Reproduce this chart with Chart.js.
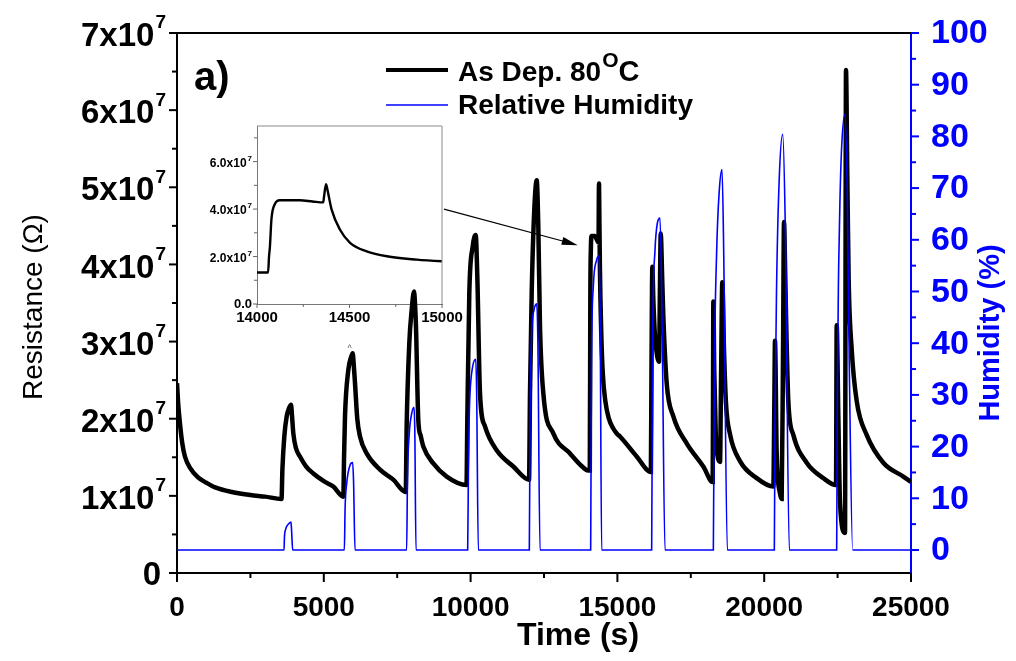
<!DOCTYPE html>
<html>
<head>
<meta charset="utf-8">
<script src="https://cdn.jsdelivr.net/npm/chart.js@4.4.1/dist/chart.umd.min.js"></script>
<style>
  html, body { margin: 0; padding: 0; background: #fff; }
  #wrap { position: relative; width: 1016px; height: 661px; }
  #wrap canvas { position: absolute; }
  #insetChart { left: 190px; top: 118px; }
  #mainChart { left: 0; top: 0; }
</style>
</head>
<body>
<div id="wrap">
  <canvas id="insetChart" width="280" height="240"></canvas>
  <canvas id="mainChart" width="1016" height="661"></canvas>
</div>
<script>
const FONT = "'Liberation Sans', Arial, Helvetica, sans-serif";
const BLUE = '#0000ff';

// --- DATA ---
// resistance trace, time in s, resistance in ohm
const resTime = [
  0, 40, 100, 180, 270, 450, 715, 1000, 1300, 1870, 2500, 3000, 3560,
  3590, 3655, 3736, 3820, 3883, 3915, 3962, 4050, 4189, 4400, 4643, 5000, 5324, 5665,
  5690, 5722, 5835, 5930, 5983, 6020, 6063, 6140, 6233, 6461, 6914, 7367, 7790,
  7822, 7912, 7994, 8073, 8105, 8140, 8219, 8300, 8389, 8730, 9186, 9860,
  9888, 9956, 10071, 10174, 10229, 10320, 10490, 10889, 11455, 11990,
  12023, 12081, 12159, 12252, 12306, 12364, 12477, 12817, 13386, 13800, 14000, 14060,
  14065, 14070, 14078, 14096, 14123, 14231, 14300, 14358, 14362, 14373, 14380, 14403,
  14448, 14503, 14593, 14702, 14864, 15000, 15089, 15657, 16140,
  16160, 16190, 16224, 16281, 16360, 16417, 16451, 16475, 16530, 16565, 16679, 16906, 17360, 17926, 18246,
  18258, 18268, 18300, 18350, 18400, 18495, 18530, 18573, 18631, 18699, 18835, 19176, 19744, 20311,
  20345, 20368, 20425, 20538, 20595, 20640, 20675, 20710, 20743, 20821, 20992, 21447, 22014, 22446,
  22469, 22526, 22583, 22752, 22786, 22831, 22877, 22980, 23150, 23490, 24057, 24738, 25000
];
const resistance = [
  2.46e7, 2.20e7, 1.94e7, 1.68e7, 1.51e7, 1.36e7, 1.24e7, 1.17e7, 1.11e7, 1.05e7, 1.01e7, 0.99e7, 0.96e7,
  1.34e7, 1.77e7, 2.03e7, 2.14e7, 2.18e7, 2.05e7, 1.81e7, 1.62e7, 1.51e7, 1.38e7, 1.29e7, 1.19e7, 1.12e7, 0.99e7,
  1.50e7, 2.03e7, 2.63e7, 2.80e7, 2.85e7, 2.70e7, 2.46e7, 2.00e7, 1.77e7, 1.55e7, 1.34e7, 1.21e7, 1.05e7,
  1.90e7, 2.98e7, 3.41e7, 3.65e7, 3.50e7, 3.19e7, 1.98e7, 1.78e7, 1.64e7, 1.42e7, 1.25e7, 1.14e7,
  1.98e7, 3.63e7, 4.23e7, 4.38e7, 3.84e7, 2.33e7, 1.90e7, 1.59e7, 1.38e7, 1.21e7,
  2.33e7, 3.63e7, 4.62e7, 5.09e7, 4.49e7, 3.19e7, 2.33e7, 1.81e7, 1.55e7, 1.38e7, 1.33e7, 1.33e7,
  2.00e7, 2.43e7, 3.57e7, 4.20e7, 4.37e7, 4.37e7, 4.32e7, 4.28e7, 4.50e7, 5.05e7, 4.84e7, 3.99e7,
  3.14e7, 2.58e7, 2.22e7, 2.01e7, 1.87e7, 1.80e7, 1.77e7, 1.51e7, 1.31e7,
  2.60e7, 3.97e7, 3.54e7, 3.06e7, 2.80e7, 2.74e7, 3.76e7, 4.40e7, 3.76e7, 3.32e7, 2.46e7, 2.03e7, 1.68e7, 1.38e7, 1.18e7,
  2.40e7, 3.52e7, 2.60e7, 1.80e7, 1.55e7, 1.44e7, 2.50e7, 3.77e7, 2.89e7, 2.20e7, 1.80e7, 1.45e7, 1.23e7, 1.12e7,
  2.20e7, 3.01e7, 1.56e7, 1.03e7, 0.96e7, 2.80e7, 4.55e7, 4.00e7, 3.35e7, 2.23e7, 1.79e7, 1.43e7, 1.23e7, 1.14e7,
  3.21e7, 2.01e7, 0.90e7, 0.52e7, 6.52e7, 5.13e7, 3.80e7, 2.90e7, 2.23e7, 1.79e7, 1.43e7, 1.25e7, 1.18e7
];

// relative humidity trace, time in s, humidity in %
const humTime = [
  0, 3645, 3660, 3700, 3780, 3883, 3905, 3940,
  5700, 5725, 5780, 5893, 5983, 6015, 6063,
  7822, 7850, 7912, 7994, 8073, 8100, 8140,
  9900, 9925, 9950, 9980, 10071, 10174, 10205, 10263,
  12000, 12025, 12081, 12159, 12252, 12290, 12364,
  14090, 14115, 14179, 14293, 14375, 14410, 14464,
  16167, 16200, 16281, 16360, 16451, 16520, 16621,
  18268, 18300, 18382, 18471, 18563, 18620, 18744,
  20345, 20368, 20425, 20513, 20630, 20720, 20856,
  22469, 22489, 22537, 22583, 22640, 22752, 22831, 22899, 23014,
  25000
];
const humidity = [
  0, 0, 2.5, 4.0, 4.9, 5.4, 3.5, 0,
  0, 8, 12.9, 16.4, 16.9, 13, 0,
  0, 14, 22.6, 26.4, 27.6, 23, 0,
  0, 15, 25, 30.3, 35.5, 36.9, 31, 0,
  0, 25, 41.9, 46.4, 47.6, 41, 0,
  0, 35, 50.9, 56.1, 56.9, 47, 0,
  0, 40, 58, 63.2, 64.2, 45, 0,
  0, 32, 58, 69.6, 73.6, 58, 0,
  0, 25, 52.1, 72.0, 80.4, 62, 0,
  0, 28.5, 55, 68.3, 78.2, 84.3, 68.3, 35.2, 0,
  0
];

// axis ticks
const timeTicks = [0, 5000, 10000, 15000, 20000, 25000];
const resTicks = [0, 1e7, 2e7, 3e7, 4e7, 5e7, 6e7, 7e7];
const humTicks = [0, 10, 20, 30, 40, 50, 60, 70, 80, 90, 100];
const insetTimeTicks = [14000, 14500, 15000];
const insetResTicks = [0, 2e7, 4e7, 6e7];

// arrow from the inset to the zoomed region: [inset time, inset R] -> [main time, main R]
const arrowFrom = [15000, 4.0e7];
const arrowTo = [13650, 4.25e7];

const resPoints = resTime.map((t, i) => ({ x: t, y: resistance[i] }));
const humPoints = humTime.map((t, i) => ({ x: t, y: humidity[i] }));

// --- helpers ---
function setTicks(list) {
  return axis => { axis.ticks = list.map(v => ({ value: v })); };
}

function drawTickMarks(ctx, scale, side, majorLen, minorLen) {
  const ticks = scale.ticks.map(t => t.value);
  const step = (ticks[1] - ticks[0]) / 2;
  const a = scale.chart.chartArea;
  for (let v = ticks[0]; v <= scale.max + step / 100; v += step) {
    if (v < scale.min) continue;
    const major = ticks.some(t => Math.abs(t - v) < step / 10);
    const len = major ? majorLen : minorLen;
    const p = scale.getPixelForValue(v);
    ctx.beginPath();
    if (side === 'bottom') { ctx.moveTo(p, a.bottom); ctx.lineTo(p, a.bottom + len); }
    else if (side === 'left') { ctx.moveTo(a.left, p); ctx.lineTo(a.left - len, p); }
    else { ctx.moveTo(a.right, p); ctx.lineTo(a.right + len, p); }
    ctx.stroke();
  }
}

// text with a superscript part; align 'right' ends at x, 'left' starts at x
function supText(ctx, base, sup, x, y, size, supSize, color, align) {
  ctx.font = `bold ${supSize}px ${FONT}`;
  const ws = sup ? ctx.measureText(sup).width + 1 : 0;
  ctx.font = `bold ${size}px ${FONT}`;
  const wb = ctx.measureText(base).width;
  ctx.fillStyle = color;
  ctx.textBaseline = 'middle';
  ctx.textAlign = 'left';
  const x0 = align === 'left' ? x : x - ws - wb;
  ctx.fillText(base, x0, y);
  if (sup) {
    ctx.font = `bold ${supSize}px ${FONT}`;
    ctx.fillText(sup, x0 + wb + 1, y - size * 0.42);
  }
  return x0 + wb + ws;
}

function plainText(ctx, text, x, y, font, color, align) {
  ctx.font = font;
  ctx.fillStyle = color;
  ctx.textAlign = align;
  ctx.textBaseline = 'middle';
  ctx.fillText(text, x, y);
}

// --- INSET ---
const insetDecor = {
  id: 'insetDecor',
  afterDraw(chart) {
    const { ctx, chartArea: a, scales } = chart;
    ctx.save();
    ctx.strokeStyle = '#8a8a8a';
    ctx.lineWidth = 1;
    ctx.beginPath();
    ctx.moveTo(a.left, a.top); ctx.lineTo(a.right, a.top); ctx.lineTo(a.right, a.bottom);
    ctx.stroke();
    ctx.strokeStyle = '#666';
    drawTickMarks(ctx, scales.x, 'bottom', 4, 3);
    drawTickMarks(ctx, scales.y, 'left', 4, 3);
    scales.y.ticks.forEach(t => {
      const y = scales.y.getPixelForValue(t.value);
      if (t.value === 0) supText(ctx, '0.0', '', a.left - 5, y, 13, 8, '#000');
      else supText(ctx, (t.value / 1e7).toFixed(1) + 'x10', '7', a.left - 5, y + 2, 12, 8, '#000');
    });
    scales.x.ticks.forEach(t => {
      plainText(ctx, String(t.value), scales.x.getPixelForValue(t.value), a.bottom + 14, `bold 15px ${FONT}`, '#000', 'center');
    });
    plainText(ctx, '^', scales.x.getPixelForValue(14500), a.bottom + 45, `9px ${FONT}`, '#555', 'center');
    ctx.restore();
  }
};

const insetChart = new Chart(document.getElementById('insetChart'), {
  type: 'line',
  data: {
    datasets: [{
      data: resPoints,
      borderColor: '#000',
      borderWidth: 2.4,
      pointRadius: 0,
      cubicInterpolationMode: 'monotone'
    }]
  },
  options: {
    responsive: false,
    animation: false,
    devicePixelRatio: 1,
    layout: { padding: { top: 8, right: 28, left: 0, bottom: 0 } },
    plugins: { legend: { display: false }, tooltip: { enabled: false } },
    scales: {
      x: {
        type: 'linear', min: 14000, max: 15000,
        afterBuildTicks: setTicks(insetTimeTicks),
        ticks: { display: false },
        grid: { display: false, drawTicks: false },
        border: { display: true, color: '#777', width: 1 },
        afterFit: s => { s.height = 54; }
      },
      y: {
        min: 0, max: 7.5e7,
        afterBuildTicks: setTicks(insetResTicks),
        ticks: { display: false },
        grid: { display: false, drawTicks: false },
        border: { display: true, color: '#777', width: 1 },
        afterFit: s => { s.width = 67; }
      }
    }
  },
  plugins: [insetDecor]
});

// --- MAIN CHART ---
const mainDecor = {
  id: 'mainDecor',
  afterDraw(chart) {
    const { ctx, chartArea: a, scales } = chart;
    ctx.save();
    // top frame
    ctx.strokeStyle = '#000';
    ctx.lineWidth = 2;
    ctx.beginPath();
    ctx.moveTo(a.left, a.top); ctx.lineTo(a.right, a.top);
    ctx.stroke();
    // tick marks
    drawTickMarks(ctx, scales.x, 'bottom', 9, 5);
    drawTickMarks(ctx, scales.y, 'left', 8, 5);
    ctx.strokeStyle = BLUE;
    drawTickMarks(ctx, scales.y2, 'right', 8, 5);

    // tick labels
    scales.x.ticks.forEach(t => {
      plainText(ctx, String(t.value), scales.x.getPixelForValue(t.value), a.bottom + 35, `bold 28px ${FONT}`, '#000', 'center');
    });
    scales.y.ticks.forEach(t => {
      const y = scales.y.getPixelForValue(t.value);
      if (t.value === 0) supText(ctx, '0', '', a.left - 16, y + 3, 33, 19, '#000');
      else supText(ctx, (t.value / 1e7) + 'x10', '7', a.left - 11, y + 4, 33, 19, '#000');
    });
    scales.y2.ticks.forEach(t => {
      plainText(ctx, String(t.value), a.right + 20, scales.y2.getPixelForValue(t.value) + 1, `bold 34px ${FONT}`, BLUE, 'left');
    });

    // axis titles
    plainText(ctx, 'Time (s)', a.left + 401, a.bottom + 63, `bold 32px ${FONT}`, '#000', 'center');
    ctx.save();
    ctx.translate(34, (a.top + a.bottom) / 2 + 4);
    ctx.rotate(-Math.PI / 2);
    plainText(ctx, 'Resistance (\u03A9)', 0, 0, `28px ${FONT}`, '#000', 'center');
    ctx.restore();
    ctx.save();
    ctx.translate(991, (a.top + a.bottom) / 2 + 30);
    ctx.rotate(-Math.PI / 2);
    plainText(ctx, 'Humidity (%)', 0, 0, `bold 29px ${FONT}`, BLUE, 'center');
    ctx.restore();

    // panel label
    plainText(ctx, 'a)', a.left + 17, a.top + 46, `bold 40px ${FONT}`, '#000', 'left');

    // legend
    const lx = a.left + 209, ly1 = a.top + 37, ly2 = a.top + 72;
    ctx.strokeStyle = '#000';
    ctx.lineWidth = 4;
    ctx.beginPath(); ctx.moveTo(lx, ly1); ctx.lineTo(lx + 62, ly1); ctx.stroke();
    const xe = supText(ctx, 'As Dep. 80', 'O', lx + 72, ly1 + 3, 28, 21, '#000', 'left');
    plainText(ctx, 'C', xe, ly1 + 3, `bold 29px ${FONT}`, '#000', 'left');
    ctx.strokeStyle = BLUE;
    ctx.lineWidth = 1.5;
    ctx.beginPath(); ctx.moveTo(lx, ly2); ctx.lineTo(lx + 62, ly2); ctx.stroke();
    plainText(ctx, 'Relative Humidity', lx + 72, ly2 + 1, `bold 28px ${FONT}`, '#000', 'left');

    // arrow from inset to the zoomed spike
    const ic = insetChart;
    const cv = ic.canvas;
    const x0 = ic.scales.x.getPixelForValue(arrowFrom[0]) + cv.offsetLeft + 2;
    const y0 = ic.scales.y.getPixelForValue(arrowFrom[1]) + cv.offsetTop;
    const x1 = scales.x.getPixelForValue(arrowTo[0]);
    const y1 = scales.y.getPixelForValue(arrowTo[1]);
    const ang = Math.atan2(y1 - y0, x1 - x0);
    ctx.strokeStyle = '#000';
    ctx.fillStyle = '#000';
    ctx.lineWidth = 1.2;
    ctx.beginPath(); ctx.moveTo(x0, y0); ctx.lineTo(x1 - 10 * Math.cos(ang), y1 - 10 * Math.sin(ang)); ctx.stroke();
    ctx.beginPath();
    ctx.moveTo(x1, y1);
    ctx.lineTo(x1 - 16 * Math.cos(ang) + 4 * Math.sin(ang), y1 - 16 * Math.sin(ang) - 4 * Math.cos(ang));
    ctx.lineTo(x1 - 16 * Math.cos(ang) - 4 * Math.sin(ang), y1 - 16 * Math.sin(ang) + 4 * Math.cos(ang));
    ctx.closePath();
    ctx.fill();
    ctx.restore();
  }
};

const mainChart = new Chart(document.getElementById('mainChart'), {
  type: 'line',
  data: {
    datasets: [
      {
        label: 'Relative Humidity',
        data: humPoints,
        yAxisID: 'y2',
        borderColor: BLUE,
        borderWidth: 1.6,
        pointRadius: 0,
        cubicInterpolationMode: 'monotone',
        order: 0
      },
      {
        label: 'As Dep. 80°C',
        data: resPoints,
        yAxisID: 'y',
        borderColor: '#000',
        borderWidth: 4.5,
        pointRadius: 0,
        cubicInterpolationMode: 'monotone',
        order: 1
      }
    ]
  },
  options: {
    responsive: false,
    animation: false,
    devicePixelRatio: 1,
    layout: { padding: { top: 33, left: 0, right: 0, bottom: 0 } },
    plugins: { legend: { display: false }, tooltip: { enabled: false } },
    scales: {
      x: {
        type: 'linear', min: 0, max: 25000,
        afterBuildTicks: setTicks(timeTicks),
        ticks: { display: false },
        grid: { display: false, drawTicks: false },
        border: { display: true, color: '#000', width: 2 },
        afterFit: s => { s.height = 88; }
      },
      y: {
        position: 'left', min: 0, max: 7e7,
        afterBuildTicks: setTicks(resTicks),
        ticks: { display: false },
        grid: { display: false, drawTicks: false },
        border: { display: true, color: '#000', width: 2 },
        afterFit: s => { s.width = 177; }
      },
      y2: {
        position: 'right', min: -4.45, max: 100,
        afterBuildTicks: setTicks(humTicks),
        ticks: { display: false },
        grid: { display: false, drawTicks: false },
        border: { display: true, color: BLUE, width: 2 },
        afterFit: s => { s.width = 105; }
      }
    }
  },
  plugins: [mainDecor]
});
</script>
</body>
</html>
